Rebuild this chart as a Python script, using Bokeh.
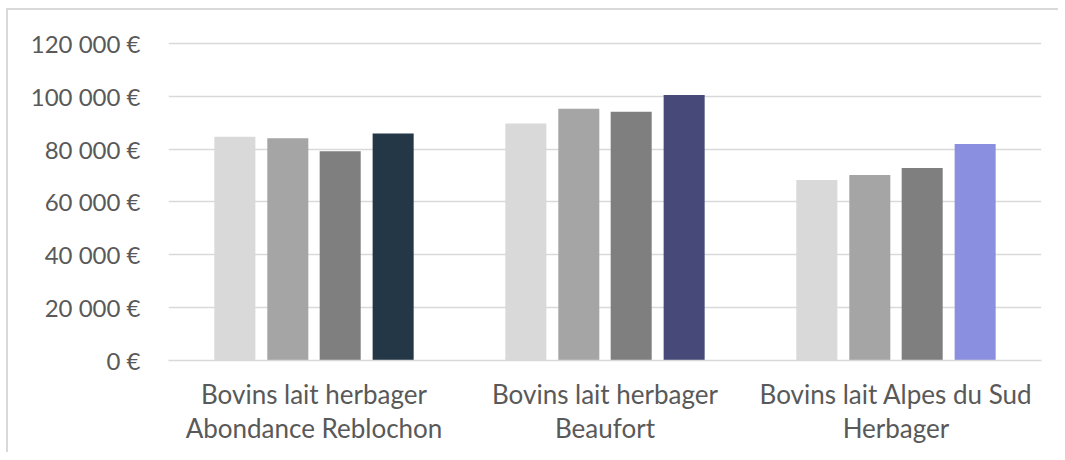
from bokeh.plotting import figure
from bokeh.models import ColumnDataSource, FactorRange, Range1d, FixedTicker
from bokeh.transform import dodge
from bokeh.embed import file_html
from bokeh.resources import INLINE

categories = ["Bovins lait herbager\nAbondance Reblochon",
              "Bovins lait herbager\nBeaufort",
              "Bovins lait Alpes du Sud\nHerbager"]
series1 = [84700, 89700, 68300]
series2 = [84100, 95300, 70200]
series3 = [79200, 94200, 72900]
series4 = [85900, 100500, 81900]
series4_colors = ["#243746", "#474A78", "#8A8FDF"]
y_ticks = [0, 20000, 40000, 60000, 80000, 100000, 120000]
y_tick_labels = ["0 €", "20 000 €", "40 000 €", "60 000 €", "80 000 €", "100 000 €", "120 000 €"]

source = ColumnDataSource(dict(cat=categories, s1=series1, s2=series2, s3=series3,
                               s4=series4, c4=series4_colors))

p = figure(x_range=FactorRange(*categories), y_range=Range1d(0, 121500),
           width=1052, height=444, output_backend="svg", toolbar_location=None,
           min_border_left=160, min_border_right=19, min_border_top=29, min_border_bottom=94)
p.styles = {"border-left": "2px solid #d9d9d9", "border-top": "2px solid #d9d9d9",
            "margin-left": "6px", "margin-top": "8px"}

offsets = [-0.272, -0.09, 0.09, 0.272]
w = 0.141
p.vbar(x=dodge("cat", offsets[0], range=p.x_range), top="s1", width=w, source=source,
       fill_color="#D9D9D9", line_color=None)
p.vbar(x=dodge("cat", offsets[1], range=p.x_range), top="s2", width=w, source=source,
       fill_color="#A5A5A5", line_color=None)
p.vbar(x=dodge("cat", offsets[2], range=p.x_range), top="s3", width=w, source=source,
       fill_color="#7F7F7F", line_color=None)
p.vbar(x=dodge("cat", offsets[3], range=p.x_range), top="s4", width=w, source=source,
       fill_color="c4", line_color=None)

p.outline_line_color = None
p.xgrid.grid_line_color = None
p.ygrid.grid_line_color = "#d9d9d9"
p.ygrid.grid_line_width = 1.5
p.yaxis.ticker = FixedTicker(ticks=y_ticks)
p.yaxis.major_label_overrides = {t: l for t, l in zip(y_ticks, y_tick_labels)}
p.yaxis.axis_line_color = None
p.yaxis.major_tick_line_color = None
p.yaxis.minor_tick_line_color = None
p.yaxis.major_label_standoff = 22
p.xaxis.axis_line_color = "#d9d9d9"
p.xaxis.axis_line_width = 1.5
p.xaxis.major_tick_line_color = None
p.xaxis.minor_tick_line_color = None
p.xaxis.major_label_standoff = 11
for ax in (p.xaxis, p.yaxis):
    ax.major_label_text_font = "Lato"
    ax.major_label_text_color = "#595959"
p.yaxis.major_label_text_font_size = "24px"
p.xaxis.major_label_text_font_size = "26px"
p.xaxis.major_label_text_line_height = 1.07

open("out.html", "w").write(file_html(p, INLINE))
